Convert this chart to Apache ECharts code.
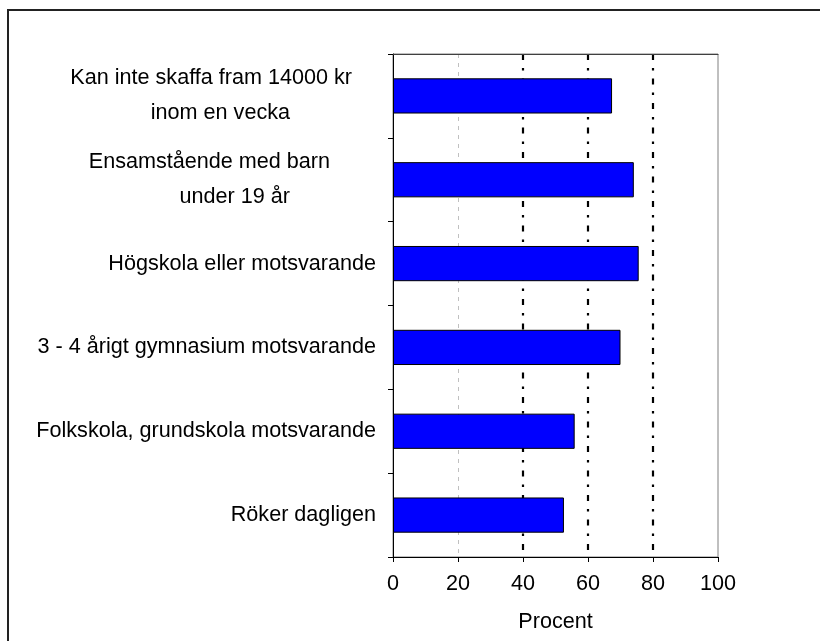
<!DOCTYPE html>
<html>
<head>
<meta charset="utf-8">
<script src="https://cdn.jsdelivr.net/npm/echarts@6/dist/echarts.min.js"></script>
<style>
  html, body { margin: 0; padding: 0; background: #fff; }
  #chart { width: 820px; height: 641px; }
</style>
</head>
<body>
<div id="chart"></div>
<script>
// Category labels, top to bottom
const categories = [
  'Kan inte skaffa fram 14000 kr\ninom en vecka',
  'Ensamstående med barn\nunder 19 år',
  'Högskola eller motsvarande',
  '3 - 4 årigt gymnasium motsvarande',
  'Folkskola, grundskola motsvarande',
  'Röker dagligen'
];
// Share in percent for each category
const values = [67.4, 74.1, 75.6, 70.0, 55.9, 52.6];
// Percent axis ticks and reference lines
const xTicks = [0, 20, 40, 60, 80, 100];
const lightGrid = [20];
const darkGrid = [40, 60, 80];

const FONT = '"Liberation Sans", Arial, sans-serif';
const FS = 21.6;

// Right padding of each label line (two-line labels are offset)
const linePad = {
  0: [24, 86],
  1: [46, 86]
};

const rich = { s: { fontSize: FS, fontFamily: FONT, color: '#000', lineHeight: 35, align: 'right' } };
Object.keys(linePad).forEach(function (k) {
  linePad[k].forEach(function (p, j) {
    rich['l' + k + '_' + j] = {
      fontSize: FS, fontFamily: FONT, color: '#000', lineHeight: 35,
      align: 'right', padding: [0, p, 0, 0]
    };
  });
});

const chart = echarts.init(document.getElementById('chart'));
chart.setOption({
  animation: false,
  backgroundColor: '#fff',
  graphic: [{
    type: 'rect',
    shape: { x: 8, y: 10, width: 900, height: 900 },
    style: { fill: 'none', stroke: '#222', lineWidth: 2 },
    silent: true
  }],
  grid: {
    left: 393, right: 102, top: 54, bottom: 84,
    show: true, borderColor: '#808080', borderWidth: 1, backgroundColor: 'transparent'
  },
  xAxis: [{
    type: 'value', position: 'bottom', min: 0, max: 100, interval: 20,
    axisLine: { show: true, lineStyle: { color: '#000', width: 1 } },
    axisTick: { show: true, length: 5, lineStyle: { color: '#000' }, customValues: xTicks },
    axisLabel: { fontSize: FS, fontFamily: FONT, color: '#000', margin: 16, customValues: xTicks },
    splitLine: { show: false },
    name: 'Procent', nameLocation: 'middle', nameGap: 54,
    nameTextStyle: { fontSize: FS, fontFamily: FONT, color: '#000' }
  }, {
    type: 'value', position: 'top', min: 0, max: 100,
    axisLine: { show: true, lineStyle: { color: '#404040', width: 1 } },
    axisTick: { show: false, customValues: lightGrid },
    axisLabel: { show: false },
    splitLine: { show: true, lineStyle: { color: '#c0c0c0', width: 1, type: [4, 5] } }
  }, {
    type: 'value', position: 'top', min: 0, max: 100,
    axisLine: { show: false },
    axisTick: { show: false, customValues: darkGrid },
    axisLabel: { show: false },
    splitLine: { show: true, lineStyle: { color: '#000', width: 2.2, type: [6, 8, 2.5, 8] } }
  }],
  yAxis: {
    type: 'category', inverse: true, data: categories,
    axisLine: { show: true, lineStyle: { color: '#000', width: 1 } },
    axisTick: { show: true, length: 5, lineStyle: { color: '#000' } },
    axisLabel: {
      margin: 17,
      formatter: function (value, index) {
        const lines = value.split('\n');
        if (lines.length === 1) return '{s|' + value + '}';
        return lines.map(function (t, j) { return '{l' + index + '_' + j + '|' + t + '}'; }).join('\n');
      },
      rich: rich
    },
    splitLine: { show: false }
  },
  series: [{
    type: 'bar',
    xAxisIndex: 0,
    data: values,
    barCategoryGap: '58%',
    z: 3,
    itemStyle: { color: '#0000ff', borderColor: '#000', borderWidth: 1 }
  }]
});
</script>
</body>
</html>
